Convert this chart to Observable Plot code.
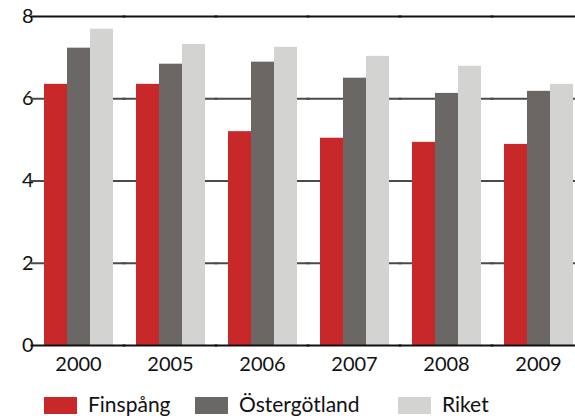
<!DOCTYPE html>
<html>
<head>
<meta charset="utf-8">
<script src="https://cdn.jsdelivr.net/npm/d3@7"></script>
<script src="https://cdn.jsdelivr.net/npm/@observablehq/plot@0.6"></script>
<style>
  html, body { margin: 0; padding: 0; background: #fff; overflow: hidden; }
  body { width: 575px; height: 416px; font-family: Lato, "DejaVu Sans", sans-serif; }
  #legend { display: flex; align-items: flex-start; padding-left: 44px; padding-top: 3px; font-size: 21px; color: #111; }
  .item { display: flex; align-items: flex-start; }
  .sw { width: 33px; height: 17px; margin-top: 2px; margin-right: 11px; }
  .lab { line-height: 18px; }
</style>
</head>
<body>
<div id="chart"></div>
<div id="legend"></div>
<script>
const years = ["2000", "2005", "2006", "2007", "2008", "2009"];
const series = ["Finspång", "Östergötland", "Riket"];
const finspang = [6.35, 6.35, 5.2, 5.04, 4.94, 4.89];
const ostergotland = [7.23, 6.84, 6.89, 6.5, 6.13, 6.18];
const riket = [7.69, 7.32, 7.25, 7.03, 6.79, 6.35];
const colors = ["#c8282a", "#6b6764", "#d3d3d2"];
const yTicks = [0, 2, 4, 6, 8];

const values = [finspang, ostergotland, riket];
const data = years.flatMap((year, i) => series.map((s, j) => ({year, series: s, value: values[j][i]})));

const W = 575, ML = 31, MR = -10, PAD = 0.242;
const step = (W - ML - MR) / years.length;
const gap = -Math.ceil(step * PAD / 2) - 0.5;

const chart = Plot.plot({
  width: W,
  height: 392,
  marginLeft: ML,
  marginRight: MR,
  marginTop: 16,
  marginBottom: 47,
  style: {fontFamily: "Lato, sans-serif", fontSize: "20px", color: "#111", background: "#fff"},
  fx: {domain: years, paddingInner: PAD, paddingOuter: PAD / 2, label: null, axis: "bottom", tickSize: 0, tickPadding: 11},
  x: {domain: series, padding: 0, axis: null},
  y: {domain: [0, 8], ticks: yTicks, tickSize: 0, tickPadding: 10, label: null, tickFormat: d3.format("d")},
  color: {domain: series, range: colors},
  marks: [
    Plot.ruleY([2, 4, 6], {stroke: "#4a4a4a", strokeWidth: 2, insetLeft: gap, insetRight: gap}),
    Plot.ruleY([8], {stroke: "#111", strokeWidth: 2, insetLeft: gap, insetRight: gap}),
    Plot.barY(data, {fx: "year", x: "series", y: "value", fill: "series"}),
    Plot.ruleY([0], {stroke: "#111", strokeWidth: 2, insetLeft: gap, insetRight: gap})
  ]
});
document.getElementById("chart").appendChild(chart);

const legend = document.getElementById("legend");
const widths = [151, 203, 120];
series.forEach((s, i) => {
  const item = document.createElement("div");
  item.className = "item";
  item.style.width = widths[i] + "px";
  const sw = document.createElement("div");
  sw.className = "sw";
  sw.style.background = colors[i];
  const lab = document.createElement("span");
  lab.className = "lab";
  lab.textContent = s;
  item.appendChild(sw);
  item.appendChild(lab);
  legend.appendChild(item);
});
</script>
</body>
</html>
